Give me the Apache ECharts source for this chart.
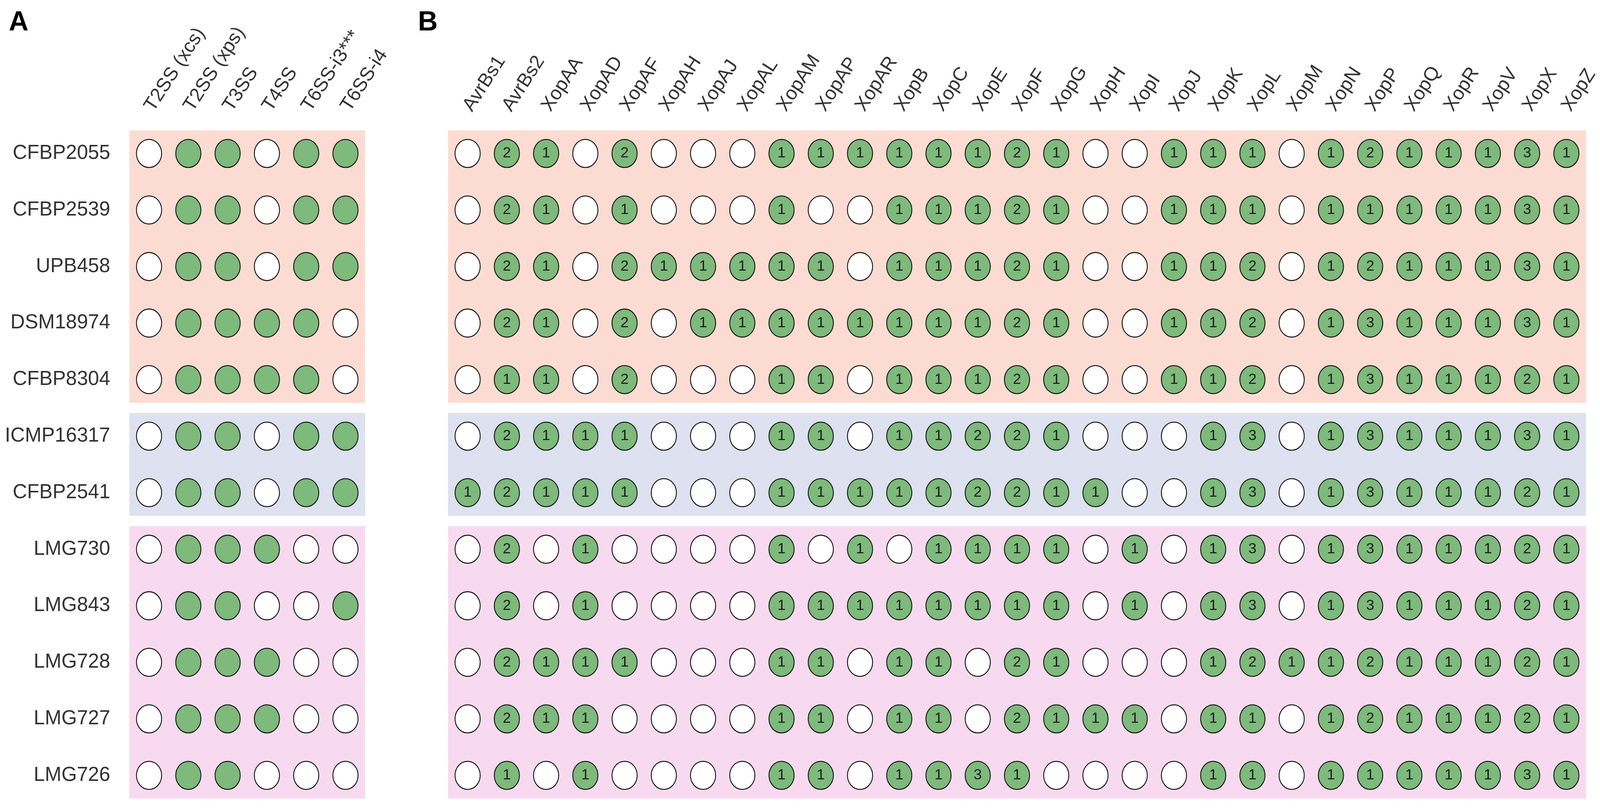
<!DOCTYPE html>
<html>
<head>
<meta charset="utf-8">
<script src="https://cdn.jsdelivr.net/npm/echarts@6/dist/echarts.min.js"></script>
<style>
html,body{margin:0;padding:0;background:#fff;overflow:hidden;}
#chart{width:100vw;height:100vh;}
</style>
</head>
<body>
<div id="chart"></div>
<script>
// ---- Data ----
const strains = ["CFBP2055","CFBP2539","UPB458","DSM18974","CFBP8304","ICMP16317","CFBP2541","LMG730","LMG843","LMG728","LMG727","LMG726"];
const secretionSystems = ["T2SS (xcs)","T2SS (xps)","T3SS","T4SS","T6SS-i3***","T6SS-i4"];
const effectors = ["AvrBs1","AvrBs2","XopAA","XopAD","XopAF","XopAH","XopAJ","XopAL","XopAM","XopAP","XopAR","XopB","XopC","XopE","XopF","XopG","XopH","XopI","XopJ","XopK","XopL","XopM","XopN","XopP","XopQ","XopR","XopV","XopX","XopZ"];

// presence (1) / absence (0) of secretion systems, one row per strain
const systemPresence = [
  [0,1,1,0,1,1],
  [0,1,1,0,1,1],
  [0,1,1,0,1,1],
  [0,1,1,1,1,0],
  [0,1,1,1,1,0],
  [0,1,1,0,1,1],
  [0,1,1,0,1,1],
  [0,1,1,1,0,0],
  [0,1,1,0,0,1],
  [0,1,1,1,0,0],
  [0,1,1,1,0,0],
  [0,1,1,0,0,0]
];

// effector copy numbers (0 = absent), one row per strain
const effectorCopies = [
  [0,2,1,0,2,0,0,0,1, 1,1,1,1,1,2,1,0,0,1, 1,1,0,1,2,1,1,1,3,1],
  [0,2,1,0,1,0,0,0,1, 0,0,1,1,1,2,1,0,0,1, 1,1,0,1,1,1,1,1,3,1],
  [0,2,1,0,2,1,1,1,1, 1,0,1,1,1,2,1,0,0,1, 1,2,0,1,2,1,1,1,3,1],
  [0,2,1,0,2,0,1,1,1, 1,1,1,1,1,2,1,0,0,1, 1,2,0,1,3,1,1,1,3,1],
  [0,1,1,0,2,0,0,0,1, 1,0,1,1,1,2,1,0,0,1, 1,2,0,1,3,1,1,1,2,1],
  [0,2,1,1,1,0,0,0,1, 1,0,1,1,2,2,1,0,0,0, 1,3,0,1,3,1,1,1,3,1],
  [1,2,1,1,1,0,0,0,1, 1,1,1,1,2,2,1,1,0,0, 1,3,0,1,3,1,1,1,2,1],
  [0,2,0,1,0,0,0,0,1, 0,1,0,1,1,1,1,0,1,0, 1,3,0,1,3,1,1,1,2,1],
  [0,2,0,1,0,0,0,0,1, 1,1,1,1,1,1,1,0,1,0, 1,3,0,1,3,1,1,1,2,1],
  [0,2,1,1,1,0,0,0,1, 1,0,1,1,0,2,1,0,0,0, 1,2,1,1,2,1,1,1,2,1],
  [0,2,1,1,0,0,0,0,1, 1,0,1,1,0,2,1,1,1,0, 1,1,0,1,2,1,1,1,2,1],
  [0,1,0,1,0,0,0,0,1, 1,0,1,1,3,1,0,0,0,0, 1,1,0,1,1,1,1,1,3,1]
];

// strain groups (first row index, last row index)
const groupStart = [0, 5, 7];
const groupEnd = [4, 6, 11];
const groupColors = ["#FCDCD2", "#DDE1F0", "#F8DAF0"];

// ---- Build ----
// layout designed on a 4575 x 2077 frame, scaled to the actual viewport
const SX = window.innerWidth / 4575;
const SY = window.innerHeight / 2077;
const FONT = "Liberation Sans, Arial, sans-serif";
const GREEN = "#7DBA7B";

function cellData(matrix) {
  const out = [];
  matrix.forEach((row, r) => row.forEach((v, c) => out.push([c, r, v])));
  return out;
}
const groupData = groupStart.map((s, i) => [0, s, groupEnd[i], i]);

function makeRender(lastCol) {
  return function (params, api) {
    const s = api.value(1), e = api.value(2), ci = api.value(3);
    const size = api.size([1, 1]);
    const bw = size[0], bh = size[1];
    const p0 = api.coord([0, s]);
    const p1 = api.coord([lastCol, e]);
    const x0 = Math.min(p0[0], p1[0]) - bw / 2;
    const x1 = Math.max(p0[0], p1[0]) + bw / 2;
    const y0 = Math.min(p0[1], p1[1]) - bh * 0.41;
    const y1 = Math.max(p0[1], p1[1]) + bh * 0.41;
    return {
      type: 'rect',
      shape: { x: x0, y: y0, width: x1 - x0, height: y1 - y0 },
      style: { fill: groupColors[ci] }
    };
  };
}

const gridTop = 320.6 * SY, gridH = 1737.6 * SY;
const itemStyle = {
  color: p => p.value[2] > 0 ? GREEN : '#FFFFFF',
  borderColor: '#1A1A1A',
  borderWidth: 2.8 * SX,
  opacity: 1
};
const symSize = [72 * SX, 72 * SY];

const option = {
  backgroundColor: '#fff',
  animation: false,
  title: [
    { text: 'A', left: 25 * SX, top: 24 * SY, padding: 0, textStyle: { fontFamily: FONT, fontWeight: 'bold', fontSize: 78 * SX, color: '#000' } },
    { text: 'B', left: 1195 * SX, top: 24 * SY, padding: 0, textStyle: { fontFamily: FONT, fontWeight: 'bold', fontSize: 78 * SX, color: '#000' } }
  ],
  grid: [
    { left: 370 * SX, top: gridTop, width: 674 * SX, height: gridH },
    { left: 1281 * SX, top: gridTop, width: 3265 * SX, height: gridH }
  ],
  xAxis: [0, 1].map(i => ({
    type: 'category', gridIndex: i, position: 'top',
    data: i === 0 ? secretionSystems : effectors,
    axisLine: { show: false }, axisTick: { show: false }, splitLine: { show: false },
    axisLabel: { rotate: -57, margin: 40 * SY, fontSize: 55 * SX, color: '#333', fontFamily: FONT, interval: 0 }
  })),
  yAxis: [0, 1].map(i => ({
    type: 'category', gridIndex: i, inverse: true,
    data: strains,
    axisLine: { show: false }, axisTick: { show: false }, splitLine: { show: false },
    axisLabel: { show: i === 0, margin: 55 * SX, fontSize: 57 * SX, color: '#333', fontFamily: FONT, interval: 0 }
  })),
  series: [
    { type: 'custom', xAxisIndex: 0, yAxisIndex: 0, data: groupData, encode: { x: 0, y: [1, 2] }, renderItem: makeRender(secretionSystems.length - 1), z: 1, silent: true, clip: false },
    { type: 'custom', xAxisIndex: 1, yAxisIndex: 1, data: groupData, encode: { x: 0, y: [1, 2] }, renderItem: makeRender(effectors.length - 1), z: 1, silent: true, clip: false },
    {
      type: 'scatter', xAxisIndex: 0, yAxisIndex: 0, z: 3,
      data: cellData(systemPresence), symbol: 'circle', symbolSize: symSize,
      itemStyle: itemStyle, label: { show: false }
    },
    {
      type: 'scatter', xAxisIndex: 1, yAxisIndex: 1, z: 3,
      data: cellData(effectorCopies), symbol: 'circle', symbolSize: symSize,
      itemStyle: itemStyle,
      label: {
        show: true, position: 'inside', fontSize: 42 * SX, color: '#1A1A1A', fontFamily: FONT,
        formatter: p => p.value[2] > 0 ? String(p.value[2]) : ''
      }
    }
  ]
};

const chart = echarts.init(document.getElementById('chart'), null, { renderer: 'canvas' });
chart.setOption(option);
</script>
</body>
</html>
